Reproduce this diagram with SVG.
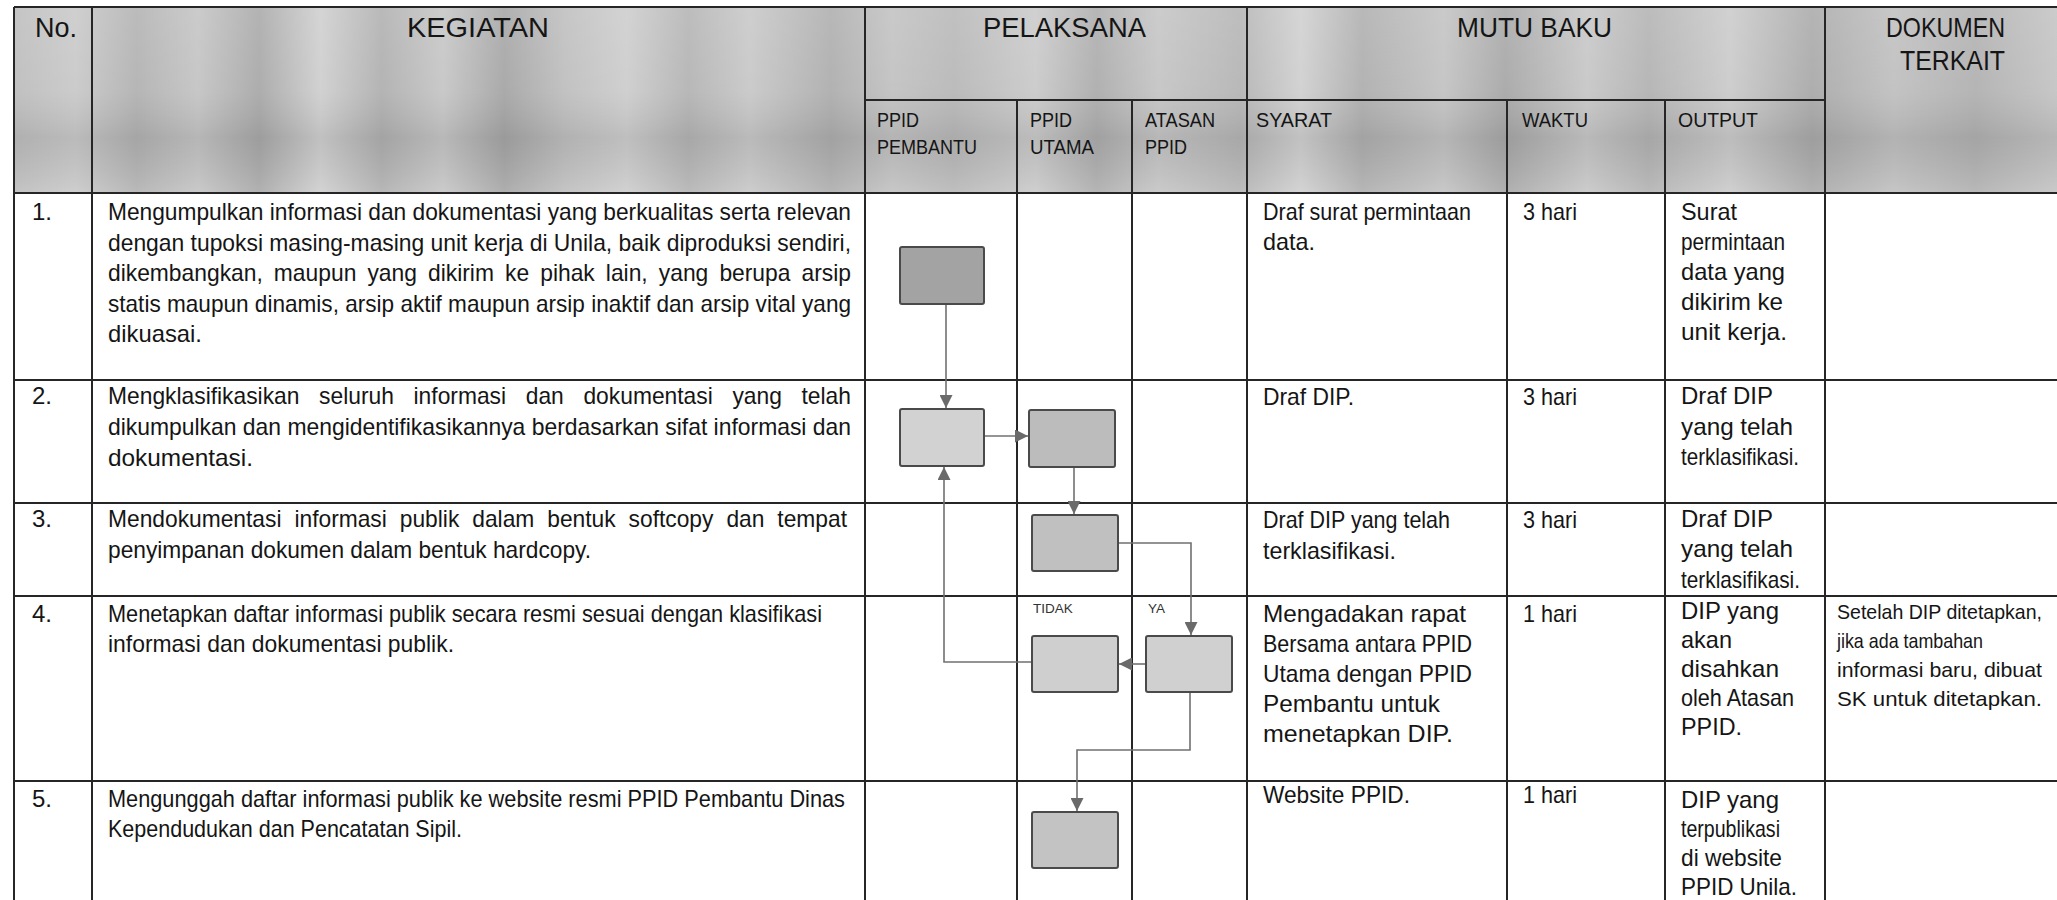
<svg xmlns="http://www.w3.org/2000/svg" width="2057" height="900" viewBox="0 0 2057 900">
<defs>
<style>
.t{font-family:"Liberation Sans",Arial,sans-serif;fill:#151515}
.b{font-size:24px}
.d{font-size:21px}
.h{font-size:28px}
.s{font-size:21px}
.l{font-size:13.5px;fill:#333}
.g{stroke:#262626;stroke-width:2;fill:none}
.n{stroke:#4a4a4a;stroke-width:2}
.c{fill:none;stroke:#707070;stroke-width:1.6;marker-end:url(#ah)}
</style>
<marker id="ah" viewBox="0 0 10 10" refX="10" refY="5" markerUnits="userSpaceOnUse" markerWidth="13" markerHeight="13" orient="auto">
<path d="M0,0 L10,5 L0,10 z" fill="#6a6a6a"/>
</marker>
<linearGradient id="hx" gradientUnits="userSpaceOnUse" x1="14" y1="0" x2="2057" y2="0">
<stop offset="0" stop-color="#bdbdbd"/>
<stop offset="0.03" stop-color="#c9c9c9"/>
<stop offset="0.06" stop-color="#b2b2b2"/>
<stop offset="0.09" stop-color="#c4c4c4"/>
<stop offset="0.12" stop-color="#a9a9a9"/>
<stop offset="0.15" stop-color="#cfcfcf"/>
<stop offset="0.18" stop-color="#b0b0b0"/>
<stop offset="0.21" stop-color="#c6c6c6"/>
<stop offset="0.24" stop-color="#a6a6a6"/>
<stop offset="0.27" stop-color="#bfbfbf"/>
<stop offset="0.30" stop-color="#cdcdcd"/>
<stop offset="0.33" stop-color="#b4b4b4"/>
<stop offset="0.36" stop-color="#c8c8c8"/>
<stop offset="0.40" stop-color="#aeaeae"/>
<stop offset="0.43" stop-color="#c2c2c2"/>
<stop offset="0.46" stop-color="#b8b8b8"/>
<stop offset="0.50" stop-color="#cacaca"/>
<stop offset="0.53" stop-color="#adadad"/>
<stop offset="0.56" stop-color="#c5c5c5"/>
<stop offset="0.60" stop-color="#b5b5b5"/>
<stop offset="0.63" stop-color="#d0d0d0"/>
<stop offset="0.66" stop-color="#afafaf"/>
<stop offset="0.70" stop-color="#c3c3c3"/>
<stop offset="0.73" stop-color="#a8a8a8"/>
<stop offset="0.77" stop-color="#c7c7c7"/>
<stop offset="0.80" stop-color="#b3b3b3"/>
<stop offset="0.84" stop-color="#cbcbcb"/>
<stop offset="0.88" stop-color="#aaaaaa"/>
<stop offset="0.92" stop-color="#c0c0c0"/>
<stop offset="0.96" stop-color="#b1b1b1"/>
<stop offset="1" stop-color="#c4c4c4"/>
</linearGradient>
<linearGradient id="hy" x1="0" y1="0" x2="0" y2="1">
<stop offset="0" stop-color="#ffffff" stop-opacity="0.12"/>
<stop offset="0.45" stop-color="#ffffff" stop-opacity="0.05"/>
<stop offset="0.7" stop-color="#000000" stop-opacity="0.07"/>
<stop offset="1" stop-color="#ffffff" stop-opacity="0.1"/>
</linearGradient>
</defs>
<rect x="0" y="0" width="2057" height="900" fill="#ffffff"/>

<g id="header-bg">
<rect x="14" y="7" width="2043" height="186" fill="url(#hx)"/>
<rect x="14" y="7" width="2043" height="186" fill="url(#hy)"/>
</g>

<g id="grid">
<line class="g" x1="14" y1="7" x2="14" y2="900"/>
<line class="g" x1="92" y1="7" x2="92" y2="900"/>
<line class="g" x1="865" y1="7" x2="865" y2="900"/>
<line class="g" x1="1247" y1="7" x2="1247" y2="900"/>
<line class="g" x1="1825" y1="7" x2="1825" y2="900"/>
<line class="g" x1="1017" y1="100" x2="1017" y2="900"/>
<line class="g" x1="1132" y1="100" x2="1132" y2="900"/>
<line class="g" x1="1507" y1="100" x2="1507" y2="900"/>
<line class="g" x1="1665" y1="100" x2="1665" y2="900"/>
<line class="g" x1="14" y1="7" x2="2057" y2="7"/>
<line class="g" x1="865" y1="100" x2="1825" y2="100"/>
<line class="g" x1="14" y1="193" x2="2057" y2="193"/>
<line class="g" x1="14" y1="380" x2="2057" y2="380"/>
<line class="g" x1="14" y1="503" x2="2057" y2="503"/>
<line class="g" x1="14" y1="596" x2="2057" y2="596"/>
<line class="g" x1="14" y1="781" x2="2057" y2="781"/>
</g>

<g id="header-text" class="t">
<text class="h" x="35" y="37" textLength="42" lengthAdjust="spacingAndGlyphs">No.</text>
<text class="h" x="407" y="37" textLength="142" lengthAdjust="spacingAndGlyphs">KEGIATAN</text>
<text class="h" x="983" y="37" textLength="163" lengthAdjust="spacingAndGlyphs">PELAKSANA</text>
<text class="h" x="1457" y="37" textLength="155" lengthAdjust="spacingAndGlyphs">MUTU BAKU</text>
<text class="h" x="1886" y="37" textLength="119" lengthAdjust="spacingAndGlyphs">DOKUMEN</text>
<text class="h" x="1900" y="70" textLength="105" lengthAdjust="spacingAndGlyphs">TERKAIT</text>
<text class="s" x="877" y="127" textLength="42" lengthAdjust="spacingAndGlyphs">PPID</text>
<text class="s" x="877" y="154" textLength="100" lengthAdjust="spacingAndGlyphs">PEMBANTU</text>
<text class="s" x="1030" y="127" textLength="42" lengthAdjust="spacingAndGlyphs">PPID</text>
<text class="s" x="1030" y="154" textLength="64" lengthAdjust="spacingAndGlyphs">UTAMA</text>
<text class="s" x="1145" y="127" textLength="70" lengthAdjust="spacingAndGlyphs">ATASAN</text>
<text class="s" x="1145" y="154" textLength="42" lengthAdjust="spacingAndGlyphs">PPID</text>
<text class="s" x="1256" y="127" textLength="76" lengthAdjust="spacingAndGlyphs">SYARAT</text>
<text class="s" x="1522" y="127" textLength="66" lengthAdjust="spacingAndGlyphs">WAKTU</text>
<text class="s" x="1678" y="127" textLength="80" lengthAdjust="spacingAndGlyphs">OUTPUT</text>
</g>

<g id="kegiatan" class="t b">
<text x="32" y="220">1.</text>
<text x="108" y="220" textLength="743" lengthAdjust="spacingAndGlyphs">Mengumpulkan informasi dan dokumentasi yang berkualitas serta relevan</text>
<text x="108" y="250.5" textLength="743" lengthAdjust="spacingAndGlyphs">dengan tupoksi masing-masing unit kerja di Unila, baik diproduksi sendiri,</text>
<text x="108" y="281" textLength="743" lengthAdjust="spacingAndGlyphs" style="word-spacing:5px">dikembangkan, maupun yang dikirim ke pihak lain, yang berupa arsip</text>
<text x="108" y="311.5" textLength="743" lengthAdjust="spacingAndGlyphs">statis maupun dinamis, arsip aktif maupun arsip inaktif dan arsip vital yang</text>
<text x="108" y="342" textLength="94" lengthAdjust="spacingAndGlyphs">dikuasai.</text>
<text x="32" y="404">2.</text>
<text x="108" y="404" textLength="743" lengthAdjust="spacingAndGlyphs" style="word-spacing:14px">Mengklasifikasikan seluruh informasi dan dokumentasi yang telah</text>
<text x="108" y="435" textLength="743" lengthAdjust="spacingAndGlyphs">dikumpulkan dan mengidentifikasikannya berdasarkan sifat informasi dan</text>
<text x="108" y="466" textLength="145" lengthAdjust="spacingAndGlyphs">dokumentasi.</text>
<text x="32" y="527">3.</text>
<text x="108" y="527" textLength="739" lengthAdjust="spacingAndGlyphs" style="word-spacing:7px">Mendokumentasi informasi publik dalam bentuk softcopy dan tempat</text>
<text x="108" y="558" textLength="483" lengthAdjust="spacingAndGlyphs">penyimpanan dokumen dalam bentuk hardcopy.</text>
<text x="32" y="622">4.</text>
<text x="108" y="622" textLength="714" lengthAdjust="spacingAndGlyphs">Menetapkan daftar informasi publik secara resmi sesuai dengan klasifikasi</text>
<text x="108" y="652" textLength="346" lengthAdjust="spacingAndGlyphs">informasi dan dokumentasi publik.</text>
<text x="32" y="807">5.</text>
<text x="108" y="807" textLength="737" lengthAdjust="spacingAndGlyphs">Mengunggah daftar informasi publik ke website resmi PPID Pembantu Dinas</text>
<text x="108" y="837" textLength="354" lengthAdjust="spacingAndGlyphs">Kependudukan dan Pencatatan Sipil.</text>
</g>

<g id="syarat" class="t b">
<text x="1263" y="220" textLength="208" lengthAdjust="spacingAndGlyphs">Draf surat permintaan</text>
<text x="1263" y="250" textLength="52" lengthAdjust="spacingAndGlyphs">data.</text>
<text x="1263" y="405" textLength="91" lengthAdjust="spacingAndGlyphs">Draf DIP.</text>
<text x="1263" y="528" textLength="187" lengthAdjust="spacingAndGlyphs">Draf DIP yang telah</text>
<text x="1263" y="559" textLength="133" lengthAdjust="spacingAndGlyphs">terklasifikasi.</text>
<text x="1263" y="622" textLength="203" lengthAdjust="spacingAndGlyphs">Mengadakan rapat</text>
<text x="1263" y="652" textLength="209" lengthAdjust="spacingAndGlyphs">Bersama antara PPID</text>
<text x="1263" y="682" textLength="209" lengthAdjust="spacingAndGlyphs">Utama dengan PPID</text>
<text x="1263" y="712" textLength="177" lengthAdjust="spacingAndGlyphs">Pembantu untuk</text>
<text x="1263" y="742" textLength="190" lengthAdjust="spacingAndGlyphs">menetapkan DIP.</text>
<text x="1263" y="803" textLength="147" lengthAdjust="spacingAndGlyphs">Website PPID.</text>
</g>

<g id="waktu" class="t b">
<text x="1523" y="220" textLength="54" lengthAdjust="spacingAndGlyphs">3 hari</text>
<text x="1523" y="405" textLength="54" lengthAdjust="spacingAndGlyphs">3 hari</text>
<text x="1523" y="528" textLength="54" lengthAdjust="spacingAndGlyphs">3 hari</text>
<text x="1523" y="622" textLength="54" lengthAdjust="spacingAndGlyphs">1 hari</text>
<text x="1523" y="803" textLength="54" lengthAdjust="spacingAndGlyphs">1 hari</text>
</g>

<g id="output" class="t b">
<text x="1681" y="220" textLength="56" lengthAdjust="spacingAndGlyphs">Surat</text>
<text x="1681" y="250" textLength="104" lengthAdjust="spacingAndGlyphs">permintaan</text>
<text x="1681" y="280" textLength="104" lengthAdjust="spacingAndGlyphs">data yang</text>
<text x="1681" y="310" textLength="102" lengthAdjust="spacingAndGlyphs">dikirim ke</text>
<text x="1681" y="340" textLength="106" lengthAdjust="spacingAndGlyphs">unit kerja.</text>
<text x="1681" y="404" textLength="92" lengthAdjust="spacingAndGlyphs">Draf DIP</text>
<text x="1681" y="435" textLength="112" lengthAdjust="spacingAndGlyphs">yang telah</text>
<text x="1681" y="465" textLength="118" lengthAdjust="spacingAndGlyphs">terklasifikasi.</text>
<text x="1681" y="527" textLength="92" lengthAdjust="spacingAndGlyphs">Draf DIP</text>
<text x="1681" y="557" textLength="112" lengthAdjust="spacingAndGlyphs">yang telah</text>
<text x="1681" y="588" textLength="119" lengthAdjust="spacingAndGlyphs">terklasifikasi.</text>
<text x="1681" y="619" textLength="98" lengthAdjust="spacingAndGlyphs">DIP yang</text>
<text x="1681" y="648" textLength="51" lengthAdjust="spacingAndGlyphs">akan</text>
<text x="1681" y="677" textLength="98" lengthAdjust="spacingAndGlyphs">disahkan</text>
<text x="1681" y="706" textLength="113" lengthAdjust="spacingAndGlyphs">oleh Atasan</text>
<text x="1681" y="735" textLength="61" lengthAdjust="spacingAndGlyphs">PPID.</text>
<text x="1681" y="808" textLength="98" lengthAdjust="spacingAndGlyphs">DIP yang</text>
<text x="1681" y="837" textLength="99" lengthAdjust="spacingAndGlyphs">terpublikasi</text>
<text x="1681" y="866" textLength="101" lengthAdjust="spacingAndGlyphs">di website</text>
<text x="1681" y="895" textLength="116" lengthAdjust="spacingAndGlyphs">PPID Unila.</text>
</g>

<g id="dokumen" class="t d">
<text x="1837" y="619" textLength="205" lengthAdjust="spacingAndGlyphs">Setelah DIP ditetapkan,</text>
<text x="1837" y="648" textLength="146" lengthAdjust="spacingAndGlyphs">jika ada tambahan</text>
<text x="1837" y="677" textLength="205" lengthAdjust="spacingAndGlyphs">informasi baru, dibuat</text>
<text x="1837" y="706" textLength="205" lengthAdjust="spacingAndGlyphs">SK untuk ditetapkan.</text>
</g>

<g id="connectors">
<path class="c" d="M946,304 L946,408"/>
<path class="c" d="M984,436 L1028,436"/>
<path class="c" d="M1074,467 L1074,514"/>
<path class="c" d="M1118,543 L1191,543 L1191,635"/>
<path class="c" d="M1146,664 L1119,664"/>
<path class="c" d="M1032,662 L944,662 L944,467"/>
<path class="c" d="M1190,692 L1190,750 L1077,750 L1077,811"/>
</g>

<g id="node-1"><rect class="n" x="900" y="247" width="84" height="57" rx="2" fill="#a3a3a3"/></g>
<g id="node-2"><rect class="n" x="900" y="409" width="84" height="57" rx="2" fill="#d2d2d2"/></g>
<g id="node-3"><rect class="n" x="1029" y="410" width="86" height="57" rx="2" fill="#bcbcbc"/></g>
<g id="node-4"><rect class="n" x="1032" y="515" width="86" height="56" rx="2" fill="#c0c0c0"/></g>
<g id="node-5"><rect class="n" x="1032" y="636" width="86" height="56" rx="2" fill="#cfcfcf"/></g>
<g id="node-6"><rect class="n" x="1146" y="636" width="86" height="56" rx="2" fill="#d0d0d0"/></g>
<g id="node-7"><rect class="n" x="1032" y="812" width="86" height="56" rx="2" fill="#c3c3c3"/></g>

<g id="labels" class="t l">
<text x="1033" y="613">TIDAK</text>
<text x="1148" y="613">YA</text>
</g>
</svg>
